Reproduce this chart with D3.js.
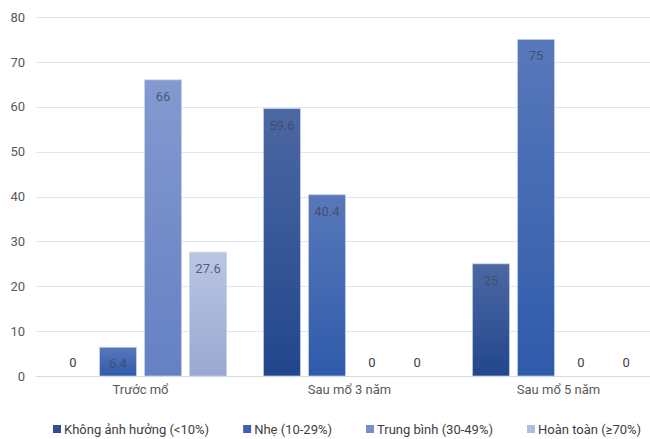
<!DOCTYPE html>
<html>
<head>
<meta charset="utf-8">
<script src="https://cdn.jsdelivr.net/npm/d3@7"></script>
<style>
  html, body { margin: 0; padding: 0; background: #ffffff; }
  svg { display: block; font-family: Roboto, "Noto Sans", sans-serif; }
</style>
</head>
<body>
<svg id="chart" width="650" height="439"></svg>
<script>
// Groups along the x axis
const categories = ["Trước mổ", "Sau mổ 3 năm", "Sau mổ 5 năm"];
// Series names (legend)
const seriesNames = [
  "Không ảnh hưởng (<10%)",
  "Nhẹ (10-29%)",
  "Trung bình (30-49%)",
  "Hoàn toàn (≥70%)"
];
// Values per series, one entry per category
const khongAnhHuong = [0, 59.6, 25];
const nhe = [6.4, 40.4, 75];
const trungBinh = [66, 0, 0];
const hoanToan = [27.6, 0, 0];
const seriesValues = [khongAnhHuong, nhe, trungBinh, hoanToan];
// Y axis ticks
const yTicks = [0, 10, 20, 30, 40, 50, 60, 70, 80];

// Gradient stops per series: [top, bottom]
const seriesGradients = [
  ["#4c68a3", "#22468c"],
  ["#5878ba", "#2f5bab"],
  ["#8399d0", "#6581c3"],
  ["#bac5e4", "#99a8d0"]
];
const legendColors = ["#2f4f96", "#3b63b4", "#7890c9", "#b0bddf"];

const svg = d3.select("#chart");
const margin = { left: 36, right: -13, top: 17, bottom: 63 };
const W = 650, H = 439;

const y = d3.scaleLinear()
  .domain([0, 80])
  .range([H - margin.bottom, margin.top]);

const x0 = d3.scaleBand()
  .domain(categories)
  .range([margin.left, W - margin.right])
  .paddingInner(0)
  .paddingOuter(0);

const x1 = d3.scaleBand()
  .domain(d3.range(seriesNames.length))
  .range([0, x0.bandwidth()])
  .paddingInner(0.178)
  .paddingOuter(0.41);

// Gradients
const defs = svg.append("defs");
seriesGradients.forEach((g, i) => {
  const lg = defs.append("linearGradient")
    .attr("id", "grad" + i)
    .attr("x1", 0).attr("y1", 0).attr("x2", 0).attr("y2", 1);
  lg.append("stop").attr("offset", "0%").attr("stop-color", g[0]);
  lg.append("stop").attr("offset", "100%").attr("stop-color", g[1]);
});

// Gridlines
svg.append("g")
  .selectAll("line")
  .data(yTicks)
  .join("line")
  .attr("x1", margin.left)
  .attr("x2", W)
  .attr("y1", d => Math.round(y(d)) + 0.5)
  .attr("y2", d => Math.round(y(d)) + 0.5)
  .attr("stroke", d => d === 0 ? "#d6dbe3" : "#e1e6ee")
  .attr("stroke-width", 1);

// Y axis labels
const yAxis = d3.axisLeft(y).tickValues(yTicks).tickSize(0).tickPadding(0);
const yg = svg.append("g")
  .attr("transform", `translate(${margin.left - 11},0)`)
  .call(yAxis);
yg.select(".domain").remove();
yg.selectAll("text")
  .attr("fill", "#595959")
  .style("font-size", "13px")
  .style("font-family", "Roboto, sans-serif");

// X axis labels
const xAxis = d3.axisBottom(x0).tickSize(0).tickPadding(0);
const xg = svg.append("g")
  .attr("transform", `translate(0,${y(0) + 9})`)
  .call(xAxis);
xg.select(".domain").remove();
xg.selectAll("text")
  .attr("fill", "#595959")
  .style("font-size", "13px")
  .style("font-family", "Roboto, sans-serif");

// Bars
const groups = svg.append("g")
  .selectAll("g")
  .data(categories)
  .join("g")
  .attr("transform", d => `translate(${x0(d)},0)`);

const cells = groups.selectAll("g")
  .data((c, ci) => seriesValues.map((vals, si) => ({ si, v: vals[ci] })))
  .join("g");

cells.filter(d => d.v > 0)
  .append("rect")
  .attr("x", d => x1(d.si))
  .attr("width", x1.bandwidth())
  .attr("y", d => y(d.v))
  .attr("height", d => y(0) - y(d.v))
  .attr("fill", d => `url(#grad${d.si})`)
  .attr("stroke", "#c9d4ec")
  .attr("stroke-opacity", 0.7)
  .attr("stroke-width", 1);

cells.append("text")
  .attr("x", d => x1(d.si) + x1.bandwidth() / 2)
  .attr("y", d => d.v > 0 ? y(d.v) + 21 : y(0) - 9)
  .attr("text-anchor", "middle")
  .attr("fill", d => d.v > 0 ? "#3e4a62" : "#404040")
  .attr("fill-opacity", d => d.v > 0 ? 0.85 : 1)
  .style("font-size", "13px")
  .style("font-family", "Roboto, sans-serif")
  .text(d => d.v);

// Legend
const legend = svg.append("g")
  .attr("transform", `translate(0,434)`);
let lx = 53;
seriesNames.forEach((name, i) => {
  legend.append("rect")
    .attr("x", lx)
    .attr("y", -9)
    .attr("width", 8)
    .attr("height", 8)
    .attr("fill", legendColors[i]);
  const t = legend.append("text")
    .attr("x", lx + 11)
    .attr("y", 0)
    .attr("fill", "#404040")
    .style("font-size", "13px")
    .style("font-family", "Roboto, sans-serif")
    .text(name);
  lx += 11 + t.node().getComputedTextLength() + 34;
});
</script>
</body>
</html>
